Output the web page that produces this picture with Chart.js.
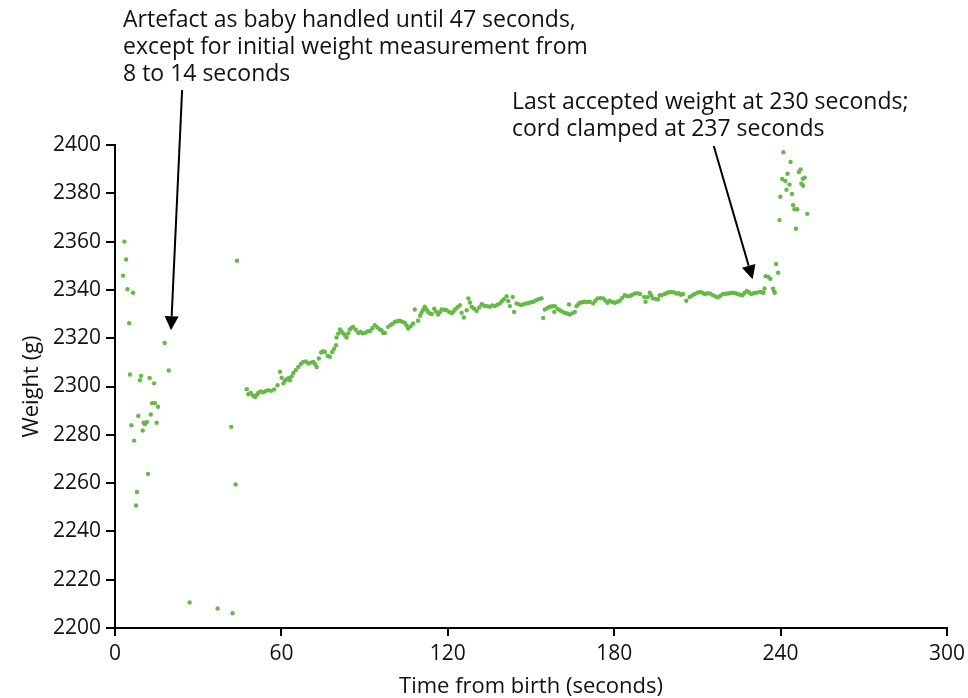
<!DOCTYPE html>
<html>
<head>
<meta charset="utf-8">
<script src="https://cdn.jsdelivr.net/npm/chart.js@4.4.1/dist/chart.umd.min.js"></script>
<style>
  html, body { margin: 0; padding: 0; background: #fff; }
  #wrap { width: 968px; height: 698px; position: relative; }
</style>
</head>
<body>
<div id="wrap"><canvas id="weightChart"></canvas></div>
<script>
// Artefact readings while the baby was handled (before 47 s)
const handledTime = [2.9, 3.4, 4.0, 4.5, 5.1, 5.4, 5.9, 6.5, 6.9, 7.6, 7.9, 8.4, 9.0, 9.4, 10.0, 10.3, 10.8, 11.5, 11.9, 12.5, 12.9, 13.4, 14.1, 14.4, 15.0, 15.5, 17.9, 19.4, 26.9, 37.0, 41.9, 42.4, 43.5, 44.0];
const handledWeight = [2345.9, 2360.0, 2352.6, 2340.3, 2326.2, 2305.0, 2284.0, 2338.8, 2277.6, 2250.7, 2256.3, 2287.8, 2302.6, 2304.4, 2281.8, 2285.0, 2284.4, 2285.3, 2263.8, 2303.5, 2288.4, 2293.1, 2301.3, 2293.1, 2285.0, 2291.6, 2318.0, 2306.6, 2210.6, 2208.1, 2283.3, 2206.1, 2259.4, 2352.1];

// Accepted weights, 47 s to cord clamping
const mainTime = [
  47.5, 48.1, 49.0, 49.8, 50.5, 51.2, 51.7, 52.5, 53.4, 54.3, 55.3, 56.3, 57.4, 58.6, 59.5, 60.1, 60.7, 61.3, 61.9, 62.5,
  63.1, 63.7, 64.3, 65.2, 66.1, 67.0, 67.9, 68.8, 69.7, 70.6, 71.5, 72.1, 72.7, 73.5, 74.3, 75.0, 75.7, 76.7, 77.5, 78.3,
  79.0, 79.7, 79.9, 80.5, 81.1, 81.7, 82.3, 82.9, 83.5, 84.1, 84.7, 85.3, 85.9, 86.8, 87.7, 88.5, 89.3, 90.1, 91.0, 91.9,
  92.8, 93.7, 94.6, 95.5, 96.1, 96.7, 97.3, 98.5, 99.3, 100.1, 101.0, 101.8, 102.7, 103.6, 104.5, 105.1, 105.7, 106.6, 107.5, 108.1,
  109.3, 110.0, 110.5, 111.1, 111.7, 112.3, 112.9, 113.5, 114.2, 115.1, 115.8, 116.5, 117.2, 117.8, 118.7, 119.6, 120.5, 121.4, 122.0, 122.6,
  123.5, 124.4, 125.0, 125.8, 126.8, 127.4, 128.0, 128.6, 129.5, 130.4, 131.3, 132.2, 132.8, 133.4, 134.3, 135.2, 136.1, 137.0, 137.9, 138.8,
  139.5, 140.2, 141.2, 141.8, 142.4, 143.4, 143.9, 144.8, 145.7, 146.6, 147.5, 148.4, 149.2, 150.0, 150.8, 151.7, 152.6, 153.2, 153.8, 154.4,
  155.0, 155.9, 156.8, 157.7, 158.4, 158.6, 159.5, 160.4, 161.3, 162.2, 163.0, 163.7, 164.0, 164.9, 165.8, 166.4, 167.0, 167.6, 168.5, 169.4,
  170.3, 171.2, 172.4, 173.2, 174.0, 175.0, 176.0, 176.8, 177.6, 178.4, 179.3, 180.2, 181.1, 182.0, 182.9, 183.8, 184.7, 185.6, 186.5, 187.5,
  188.4, 189.3, 190.8, 191.3, 192.0, 192.8, 193.4, 194.0, 194.9, 195.8, 196.4, 197.1, 198.2, 199.0, 199.8, 200.7, 201.6, 202.5, 203.3, 204.0,
  204.8, 206.0, 207.2, 208.1, 209.0, 210.0, 210.9, 211.8, 212.7, 213.6, 214.5, 215.6, 216.5, 217.4, 218.3, 219.2, 220.1, 221.0, 221.9, 222.8,
  223.7, 224.6, 225.4, 226.2, 227.0, 227.8, 228.6, 229.4, 230.3, 231.2, 232.4, 233.1, 233.8, 234.2, 237.3, 237.7, 237.9
];
const mainWeight = [
  2298.9, 2296.8, 2297.3, 2296.2, 2295.7, 2296.6, 2297.4, 2297.9, 2297.6, 2298.1, 2298.5, 2298.2, 2298.8, 2300.5, 2306.1, 2303.6, 2301.3, 2302.4, 2303.0, 2303.4,
  2302.6, 2304.2, 2305.6, 2306.8, 2308.1, 2309.3, 2310.2, 2310.4, 2309.5, 2309.9, 2310.2, 2309.3, 2308.1, 2311.6, 2314.1, 2314.6, 2314.3, 2312.6, 2312.3, 2314.3,
  2315.6, 2317.1, 2320.3, 2321.9, 2323.6, 2322.8, 2322.0, 2321.2, 2320.3, 2322.0, 2323.6, 2324.3, 2324.7, 2323.5, 2322.2, 2322.6, 2322.0, 2322.2, 2322.8, 2323.0,
  2324.1, 2325.4, 2324.4, 2323.6, 2323.3, 2322.2, 2322.2, 2324.7, 2325.4, 2326.0, 2326.8, 2327.0, 2327.2, 2326.8, 2326.4, 2325.3, 2324.0, 2325.0, 2326.1, 2331.9,
  2327.2, 2329.3, 2330.5, 2331.8, 2333.0, 2331.9, 2330.9, 2330.3, 2330.0, 2332.2, 2331.0, 2329.8, 2330.8, 2331.9, 2331.8, 2331.6, 2330.9, 2330.3, 2331.0, 2331.9,
  2332.8, 2333.7, 2330.5, 2328.6, 2331.6, 2336.5, 2334.8, 2333.0, 2332.2, 2331.3, 2332.7, 2334.1, 2333.7, 2333.3, 2333.2, 2333.0, 2333.6, 2333.3, 2333.9, 2334.4,
  2335.3, 2336.1, 2337.4, 2335.4, 2333.3, 2337.1, 2330.9, 2334.4, 2334.0, 2333.7, 2334.2, 2334.4, 2334.6, 2334.9, 2335.1, 2335.6, 2336.1, 2336.3, 2336.5, 2328.4,
  2331.9, 2332.5, 2333.0, 2333.2, 2330.9, 2333.3, 2332.2, 2331.6, 2331.0, 2330.5, 2330.2, 2334.0, 2329.8, 2330.4, 2330.9, 2333.3, 2334.0, 2334.7, 2334.9, 2335.1,
  2335.0, 2335.1, 2334.4, 2335.5, 2336.5, 2336.6, 2336.5, 2335.6, 2334.7, 2335.5, 2335.0, 2334.7, 2335.1, 2335.5, 2336.7, 2337.8, 2337.5, 2337.4, 2338.0, 2338.5,
  2338.6, 2338.3, 2337.1, 2335.1, 2337.0, 2338.8, 2337.7, 2336.5, 2336.3, 2336.1, 2337.8, 2337.8, 2338.3, 2338.7, 2339.0, 2339.2, 2338.9, 2338.5, 2338.6, 2338.0,
  2338.3, 2335.5, 2337.1, 2337.7, 2338.3, 2338.8, 2339.2, 2338.8, 2338.3, 2338.6, 2338.5, 2337.8, 2337.3, 2336.9, 2337.6, 2338.3, 2338.4, 2338.5, 2338.7, 2338.8,
  2338.6, 2338.3, 2338.0, 2337.8, 2338.7, 2339.6, 2339.0, 2338.3, 2338.6, 2338.8, 2339.2, 2339.0, 2338.8, 2340.6, 2340.5, 2339.2, 2338.8
];

// Readings around and after cord clamping
const clampTime = [234.6, 235.5, 236.3, 238.4, 239.1, 239.6, 239.9, 240.6, 241.0, 241.7, 242.1, 242.5, 243.2, 243.6, 244.1, 244.5, 245.0, 245.5, 246.0, 246.6, 247.2, 247.5, 248.0, 248.1, 248.7, 249.6];
const clampWeight = [2345.7, 2345.4, 2344.6, 2350.7, 2347.1, 2368.9, 2378.6, 2385.9, 2397.0, 2385.1, 2381.5, 2388.1, 2383.6, 2393.0, 2379.7, 2375.1, 2373.4, 2365.3, 2373.4, 2388.8, 2389.9, 2384.0, 2386.0, 2383.1, 2386.5, 2371.5];

const xTicks = [0, 60, 120, 180, 240, 300];
const yTicks = [2200, 2220, 2240, 2260, 2280, 2300, 2320, 2340, 2360, 2380, 2400];

const FONT = "'Open Sans', 'Noto Sans', sans-serif";
const GREEN = "#64ba45";

function toPoints(xs, ys) {
  return xs.map((x, i) => ({ x: x, y: ys[i] }));
}

// Annotations: text blocks and arrows (arrow ends given in data units)
const notes = [
  { x: 123, y: 20, lines: ["Artefact as baby handled until 47 seconds,", "except for initial weight measurement from", "8 to 14 seconds"] },
  { x: 512, y: 102, lines: ["Last accepted weight at 230 seconds;", "cord clamped at 237 seconds"] },
];
const arrows = [
  { from: [24.2, 2422.8], to: [20.2, 2323.3] },
  { from: [215.9, 2399.6], to: [229.9, 2344.4] },
];

const annotationPlugin = {
  id: "notes",
  afterDraw(chart) {
    const ctx = chart.ctx;
    const xs = chart.scales.x;
    const ys = chart.scales.y;
    ctx.save();
    ctx.fillStyle = "#111";
    ctx.font = "23px " + FONT;
    ctx.textBaseline = "middle";
    ctx.textAlign = "left";
    notes.forEach((n) => {
      n.lines.forEach((l, i) => ctx.fillText(l, n.x, n.y + i * 27.3));
    });
    arrows.forEach((a) => {
      const x1 = xs.getPixelForValue(a.from[0]);
      const y1 = ys.getPixelForValue(a.from[1]);
      const x2 = xs.getPixelForValue(a.to[0]);
      const y2 = ys.getPixelForValue(a.to[1]);
      const ang = Math.atan2(y2 - y1, x2 - x1);
      const headLen = 14, headW = 7;
      const bx = x2 - headLen * Math.cos(ang);
      const by = y2 - headLen * Math.sin(ang);
      ctx.strokeStyle = "#000";
      ctx.lineWidth = 2;
      ctx.beginPath();
      ctx.moveTo(x1, y1);
      ctx.lineTo(bx, by);
      ctx.stroke();
      ctx.fillStyle = "#000";
      ctx.beginPath();
      ctx.moveTo(x2, y2);
      ctx.lineTo(bx + headW * Math.sin(ang), by - headW * Math.cos(ang));
      ctx.lineTo(bx - headW * Math.sin(ang), by + headW * Math.cos(ang));
      ctx.closePath();
      ctx.fill();
    });
    ctx.restore();
  },
};

const pointStyle = {
  showLine: false,
  pointRadius: 2.2,
  pointHoverRadius: 2.2,
  pointBackgroundColor: GREEN,
  pointBorderColor: GREEN,
  pointBorderWidth: 0,
};

new Chart(document.getElementById("weightChart"), {
  type: "scatter",
  data: {
    datasets: [
      { label: "handled", data: toPoints(handledTime, handledWeight), ...pointStyle },
      { label: "accepted", data: toPoints(mainTime, mainWeight), ...pointStyle },
      { label: "clamped", data: toPoints(clampTime, clampWeight), ...pointStyle },
    ],
  },
  options: {
    responsive: true,
    maintainAspectRatio: false,
    animation: false,
    layout: { padding: { top: 145, right: 21, bottom: 0, left: 0 } },
    plugins: { legend: { display: false }, tooltip: { enabled: false } },
    scales: {
      x: {
        type: "linear",
        min: 0,
        max: 300,
        afterBuildTicks: (s) => { s.ticks = xTicks.map((v) => ({ value: v })); },
        afterFit: (s) => { s.height = 70; s.paddingLeft = 0; s.paddingRight = 0; },
        border: { display: true, color: "#000", width: 2 },
        grid: { drawOnChartArea: false, drawTicks: true, tickLength: 8, color: "#000", lineWidth: 2 },
        ticks: { color: "#111", font: { family: FONT, size: 21 }, padding: 5, maxRotation: 0, callback: (v) => String(v) },
        title: { display: true, text: "Time from birth (seconds)", color: "#111", font: { family: FONT, size: 22 }, padding: { top: 0, bottom: -2 } },
      },
      y: {
        type: "linear",
        min: 2200,
        max: 2400,
        afterBuildTicks: (s) => { s.ticks = yTicks.map((v) => ({ value: v })); },
        afterFit: (s) => { s.width = 115; s.paddingTop = 0; s.paddingBottom = 0; },
        border: { display: true, color: "#000", width: 2 },
        grid: { drawOnChartArea: false, drawTicks: true, tickLength: 9, color: "#000", lineWidth: 2 },
        ticks: { color: "#111", font: { family: FONT, size: 21 }, padding: 5, callback: (v) => String(v) },
        title: { display: true, text: "Weight (g)", color: "#111", font: { family: FONT, size: 22 }, padding: { top: 19, bottom: 0 } },
      },
    },
  },
  plugins: [annotationPlugin],
});
</script>
</body>
</html>
